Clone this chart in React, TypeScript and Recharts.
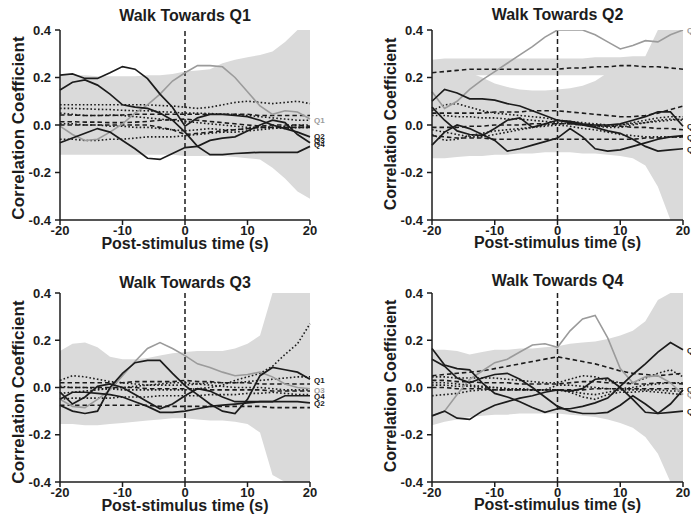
import { ComposedChart, Line, Area, XAxis, YAxis, ReferenceLine, ReferenceDot } from 'recharts'

// post-stimulus time (s), sampled every 2 s
const TIME = [-20, -18, -16, -14, -12, -10, -8, -6, -4, -2, 0, 2, 4, 6, 8, 10, 12, 14, 16, 18, 20]
const X_TICKS = [-20, -10, 0, 10, 20]
const Y_TICKS = [-0.4, -0.2, 0, 0.2, 0.4]

// ---- Walk Towards Q1 ----
const q1BandHigh = [0.21, 0.21, 0.21, 0.205, 0.205, 0.205, 0.205, 0.21, 0.21, 0.215, 0.225, 0.23, 0.235, 0.26, 0.275, 0.285, 0.295, 0.31, 0.35, 0.4, 0.4]
const q1BandLow = [-0.125, -0.125, -0.125, -0.125, -0.125, -0.125, -0.125, -0.125, -0.125, -0.125, -0.13, -0.13, -0.13, -0.13, -0.135, -0.14, -0.145, -0.18, -0.225, -0.28, -0.31]
const q1Gray = [-0.005, -0.04, -0.065, -0.06, -0.03, 0.005, 0.05, 0.085, 0.13, 0.185, 0.22, 0.25, 0.25, 0.245, 0.2, 0.14, 0.08, 0.045, 0.06, 0.055, 0.025]
const q1SolidA = [0.21, 0.215, 0.196, 0.196, 0.22, 0.246, 0.235, 0.195, 0.13, 0.075, -0.005, 0.03, 0.045, 0.045, 0.04, 0.035, 0.02, 0.0, -0.015, -0.03, -0.05]
const q1SolidB = [0.147, 0.18, 0.19, 0.168, 0.13, 0.085, 0.075, 0.07, 0.05, 0.02, -0.03, -0.09, -0.125, -0.125, -0.12, -0.117, -0.115, -0.115, -0.115, -0.115, -0.09]
const q1SolidC = [-0.075, -0.055, -0.035, -0.015, -0.03, -0.065, -0.1, -0.14, -0.145, -0.12, -0.095, -0.09, -0.065, -0.055, -0.05, -0.025, 0.0, 0.02, 0.01, -0.04, -0.075]
const q1Dot1 = [0.085, 0.085, 0.085, 0.085, 0.085, 0.085, 0.085, 0.085, 0.082, 0.08, 0.075, 0.07, 0.075, 0.085, 0.095, 0.1, 0.095, 0.09, 0.095, 0.1, 0.09]
const q1Dot2 = [0.07, 0.07, 0.068, 0.066, 0.065, 0.062, 0.06, 0.06, 0.056, 0.054, 0.05, 0.05, 0.048, 0.046, 0.045, 0.04, 0.035, 0.03, 0.025, 0.02, 0.02]
const q1Dot3 = [0.05, 0.045, 0.04, 0.04, 0.042, 0.04, 0.035, 0.03, 0.025, 0.02, 0.015, 0.01, 0.005, 0.0, -0.005, -0.01, -0.01, -0.01, -0.005, 0.0, 0.0]
const q1Dot4 = [0.005, 0.005, 0.0, 0.0, -0.005, -0.005, -0.01, -0.01, -0.015, -0.02, -0.025, -0.02, -0.015, -0.02, -0.02, -0.015, -0.01, -0.01, -0.015, -0.01, -0.01]
const q1Dot5 = [-0.06, -0.06, -0.065, -0.065, -0.06, -0.06, -0.055, -0.05, -0.05, -0.05, -0.045, -0.04, -0.035, -0.03, -0.03, -0.025, -0.02, -0.015, -0.01, -0.01, -0.01]
const q1Dash1 = [0.042, 0.042, 0.04, 0.04, 0.04, 0.042, 0.045, 0.045, 0.045, 0.045, 0.045, 0.045, 0.045, 0.045, 0.045, 0.045, 0.04, 0.04, 0.04, 0.04, 0.04]
const q1Dash2 = [0.0, 0.0, 0.0, 0.0, 0.0, 0.0, 0.0, 0.0, -0.01, -0.02, -0.04, -0.035, -0.03, -0.025, -0.02, -0.015, -0.01, -0.01, -0.01, -0.01, -0.01]
const q1Dash3 = [0.014, 0.014, 0.012, 0.012, 0.01, 0.01, 0.012, 0.015, 0.02, 0.022, 0.025, 0.02, 0.015, 0.01, 0.005, 0.0, -0.005, 0.0, 0.0, 0.0, -0.005]

// ---- Walk Towards Q2 ----
const q2BandHigh = [0.275, 0.28, 0.28, 0.28, 0.28, 0.28, 0.28, 0.28, 0.28, 0.28, 0.28, 0.28, 0.28, 0.285, 0.285, 0.285, 0.29, 0.29, 0.4, 0.4, 0.4]
const q2BandMid = [0.21, 0.21, 0.21, 0.21, 0.21, 0.21, 0.21, 0.21, 0.21, 0.21, 0.21, 0.21, 0.21, 0.21, 0.21, 0.21, 0.21, 0.21, 0.21, 0.21, 0.21]
const q2HoleLow = [0.22, 0.22, 0.22, 0.22, 0.2, 0.175, 0.16, 0.15, 0.145, 0.145, 0.15, 0.155, 0.165, 0.185, 0.22, 0.22, 0.22, 0.22, 0.22, 0.22, 0.22]
const q2BandLow = [-0.14, -0.14, -0.135, -0.13, -0.13, -0.125, -0.125, -0.12, -0.12, -0.115, -0.115, -0.115, -0.12, -0.12, -0.125, -0.13, -0.14, -0.17, -0.26, -0.4, -0.4]
const q2Gray = [0.14, 0.07, 0.1, 0.15, 0.19, 0.225, 0.26, 0.295, 0.33, 0.37, 0.4, 0.4, 0.4, 0.38, 0.35, 0.32, 0.335, 0.355, 0.35, 0.38, 0.4]
const q2SolidA = [0.1, 0.15, 0.135, 0.11, 0.11, 0.105, 0.09, 0.08, 0.06, 0.04, 0.02, 0.01, 0.0, -0.01, -0.025, -0.035, -0.06, -0.09, -0.11, -0.105, -0.1]
const q2SolidB = [-0.085, -0.03, 0.0, -0.015, -0.04, -0.065, -0.11, -0.1, -0.085, -0.07, -0.055, -0.015, -0.05, -0.1, -0.11, -0.105, -0.09, -0.075, -0.06, -0.05, -0.045]
const q2SolidC = [0.075, 0.02, -0.025, -0.04, -0.045, -0.015, 0.02, 0.03, -0.01, 0.005, 0.02, 0.015, 0.005, 0.0, 0.0, 0.005, 0.02, 0.035, 0.055, 0.055, -0.005]
const q2Dot1 = [0.06, 0.085, 0.09, 0.075, 0.06, 0.05, 0.045, 0.04, 0.035, 0.03, 0.02, 0.015, 0.01, 0.005, 0.0, 0.0, 0.01, 0.02, 0.03, 0.035, 0.035]
const q2Dot2 = [0.04, 0.04, 0.035, 0.035, 0.03, 0.03, 0.025, 0.025, 0.02, 0.015, 0.01, 0.005, 0.0, -0.005, -0.01, -0.01, 0.0, 0.01, 0.015, 0.02, 0.025]
const q2Dot3 = [-0.04, -0.065, -0.06, -0.045, -0.035, -0.025, -0.02, -0.015, -0.01, -0.005, 0.0, -0.005, -0.015, -0.02, -0.03, -0.04, -0.045, -0.05, -0.05, -0.05, -0.05]
const q2Dot4 = [-0.02, -0.03, -0.04, -0.05, -0.05, -0.04, -0.03, -0.02, -0.01, 0.0, 0.005, 0.005, 0.0, -0.005, -0.005, 0.0, 0.005, 0.01, 0.02, 0.025, 0.02]
const q2Dash1 = [0.22, 0.225, 0.23, 0.235, 0.235, 0.235, 0.235, 0.235, 0.235, 0.235, 0.235, 0.24, 0.24, 0.245, 0.245, 0.25, 0.25, 0.245, 0.245, 0.24, 0.235]
const q2Dash2 = [0.05, 0.05, 0.05, 0.05, 0.05, 0.055, 0.055, 0.055, 0.06, 0.06, 0.06, 0.055, 0.05, 0.045, 0.04, 0.035, 0.035, 0.04, 0.05, 0.065, 0.08]
const q2Dash3 = [-0.01, -0.01, -0.01, -0.005, -0.005, 0.0, 0.0, 0.0, 0.005, 0.005, 0.005, 0.005, 0.0, 0.0, -0.005, -0.005, -0.01, -0.01, -0.015, -0.015, -0.02]
const q2Dash4 = [-0.045, -0.05, -0.055, -0.055, -0.055, -0.06, -0.06, -0.06, -0.06, -0.06, -0.06, -0.06, -0.06, -0.06, -0.06, -0.06, -0.06, -0.055, -0.055, -0.05, -0.05]

// ---- Walk Towards Q3 ----
const q3BandHigh = [0.155, 0.185, 0.19, 0.17, 0.13, 0.12, 0.12, 0.125, 0.135, 0.145, 0.15, 0.155, 0.155, 0.155, 0.165, 0.185, 0.22, 0.4, 0.4, 0.4, 0.4]
const q3BandLow = [-0.155, -0.155, -0.16, -0.16, -0.155, -0.15, -0.145, -0.14, -0.135, -0.13, -0.13, -0.135, -0.14, -0.14, -0.145, -0.155, -0.19, -0.37, -0.4, -0.4, -0.4]
const q3Gray = [-0.05, -0.08, -0.085, -0.05, -0.01, 0.05, 0.11, 0.165, 0.19, 0.165, 0.135, 0.1, 0.085, 0.065, 0.05, 0.055, 0.065, 0.045, 0.015, 0.0, -0.005]
const q3SolidA = [-0.075, -0.1, -0.11, -0.1, 0.0, 0.06, 0.105, 0.115, 0.115, 0.06, 0.008, -0.03, -0.07, -0.1, -0.11, -0.05, 0.05, 0.085, 0.075, 0.065, 0.035]
const q3SolidB = [-0.05, -0.02, -0.02, -0.025, -0.03, -0.04, -0.06, -0.08, -0.105, -0.105, -0.1, -0.09, -0.08, -0.075, -0.07, -0.065, -0.06, -0.06, -0.035, -0.035, -0.035]
const q3SolidC = [-0.02, -0.07, -0.04, 0.005, 0.015, 0.0, -0.03, -0.06, -0.09, -0.07, -0.035, -0.005, -0.015, -0.04, -0.06, -0.06, -0.06, -0.06, -0.06, -0.06, -0.065]
const q3Dot1 = [0.005, 0.0, 0.0, -0.005, -0.005, -0.01, -0.01, -0.01, -0.01, -0.01, -0.01, -0.005, 0.0, 0.01, 0.03, 0.045, 0.06, 0.09, 0.14, 0.185, 0.27]
const q3Dot2 = [0.03, 0.05, 0.045, 0.035, 0.025, 0.02, 0.015, 0.01, 0.01, 0.01, 0.01, 0.015, 0.02, 0.02, 0.02, 0.025, 0.03, 0.035, 0.04, 0.045, 0.045]
const q3Dot3 = [-0.025, -0.02, -0.015, -0.01, -0.005, 0.0, 0.005, 0.01, 0.015, 0.02, 0.02, 0.015, 0.01, 0.005, 0.0, 0.0, 0.0, -0.005, -0.01, -0.01, -0.01]
const q3Dot4 = [-0.05, -0.045, -0.045, -0.045, -0.045, -0.04, -0.04, -0.04, -0.035, -0.035, -0.035, -0.035, -0.03, -0.03, -0.03, -0.025, -0.025, -0.02, -0.025, -0.03, -0.03]
const q3Dash1 = [0.02, 0.02, 0.02, 0.02, 0.02, 0.02, 0.025, 0.025, 0.025, 0.025, 0.03, 0.025, 0.025, 0.02, 0.02, 0.02, 0.015, 0.015, 0.015, 0.015, 0.015]
const q3Dash2 = [0.0, 0.0, 0.0, 0.0, 0.0, 0.0, 0.0, -0.005, -0.005, -0.005, -0.005, -0.005, -0.01, -0.01, -0.01, -0.01, -0.01, -0.015, -0.015, -0.015, -0.015]
const q3Dash3 = [-0.075, -0.075, -0.075, -0.075, -0.075, -0.075, -0.075, -0.075, -0.08, -0.08, -0.08, -0.08, -0.08, -0.08, -0.08, -0.08, -0.08, -0.085, -0.085, -0.085, -0.085]

// ---- Walk Towards Q4 ----
const q4BandHigh = [0.16, 0.16, 0.155, 0.14, 0.15, 0.16, 0.16, 0.165, 0.165, 0.17, 0.175, 0.185, 0.19, 0.195, 0.205, 0.22, 0.24, 0.28, 0.37, 0.4, 0.4]
const q4BandLow = [-0.16, -0.145, -0.135, -0.125, -0.12, -0.115, -0.115, -0.11, -0.11, -0.11, -0.11, -0.115, -0.12, -0.125, -0.135, -0.15, -0.17, -0.21, -0.28, -0.4, -0.4]
const q4Gray = [-0.12, -0.1, -0.03, 0.035, 0.07, 0.105, 0.12, 0.15, 0.18, 0.185, 0.17, 0.24, 0.29, 0.305, 0.21, 0.08, 0.02, 0.045, 0.05, 0.02, -0.03]
const q4SolidA = [0.165, 0.095, 0.08, 0.075, 0.02, -0.025, -0.04, -0.06, -0.085, -0.105, -0.09, -0.09, -0.08, -0.065, -0.045, 0.005, 0.055, 0.1, 0.15, 0.19, 0.16]
const q4SolidB = [0.12, 0.09, 0.04, 0.02, 0.04, 0.055, 0.06, 0.035, 0.0, -0.04, -0.08, -0.1, -0.11, -0.11, -0.105, -0.075, -0.035, -0.07, -0.11, -0.105, -0.1]
const q4SolidC = [-0.12, -0.1, -0.13, -0.135, -0.1, -0.075, -0.06, -0.045, -0.035, -0.02, -0.01, -0.015, -0.005, 0.035, 0.04, 0.0, -0.05, -0.105, -0.11, -0.07, -0.01]
const q4Dot1 = [0.045, 0.045, 0.04, 0.04, 0.04, 0.04, 0.035, 0.03, 0.025, 0.02, 0.02, 0.035, 0.05, 0.045, 0.03, 0.02, 0.02, 0.04, 0.06, 0.075, 0.045]
const q4Dot2 = [0.01, 0.01, 0.005, 0.005, 0.0, 0.0, -0.005, -0.005, -0.01, -0.01, 0.01, 0.01, 0.005, 0.0, -0.005, -0.005, 0.0, 0.01, 0.015, 0.02, 0.02]
const q4Dot3 = [-0.035, -0.03, -0.025, -0.015, -0.01, -0.01, -0.01, -0.01, -0.01, -0.01, -0.01, -0.015, -0.025, -0.03, -0.02, -0.01, -0.01, -0.01, -0.01, -0.015, -0.015]
const q4Dot4 = [0.02, 0.02, 0.015, 0.01, 0.005, 0.0, -0.005, -0.005, -0.01, -0.01, -0.01, -0.02, -0.04, -0.05, -0.03, -0.02, -0.02, -0.015, -0.02, -0.025, -0.03]
const q4Dash1 = [0.05, 0.055, 0.06, 0.065, 0.07, 0.08, 0.09, 0.1, 0.11, 0.12, 0.13, 0.12, 0.11, 0.1, 0.085, 0.07, 0.06, 0.055, 0.05, 0.055, 0.06]
const q4Dash2 = [0.03, 0.03, 0.025, 0.025, 0.02, 0.02, 0.02, 0.015, 0.015, 0.015, 0.015, 0.02, 0.025, 0.025, 0.02, 0.02, 0.015, 0.015, 0.02, 0.02, 0.015]
const q4Dash3 = [0.0, 0.0, -0.005, -0.005, -0.005, -0.01, -0.01, -0.01, -0.01, -0.01, -0.01, -0.01, -0.01, -0.005, -0.005, -0.005, -0.005, -0.005, -0.005, -0.005, -0.005]

// end-of-trace labels: text, value, gray?
const q1Labels = [['Q1', 0.022, true], ['Q2', -0.045, false], ['Q3', -0.062, false], ['Q4', -0.079, false]]
const q2Labels = [['Q2', 0.4, true], ['Q1', -0.005, false], ['Q3', -0.05, false], ['Q4', -0.1, false]]
const q3Labels = [['Q1', 0.032, false], ['Q3', -0.01, true], ['Q4', -0.035, false], ['Q2', -0.066, false]]
const q4Labels = [['Q1', 0.16, false], ['Q2', -0.005, false], ['Q4', -0.03, true], ['Q3', -0.1, false]]

const INK = '#1c1c1c'
const GRAY = '#9b9b9b'
const BAND = '#dadada'
const FONT = '"Liberation Sans", Arial, Helvetica, sans-serif'

type PanelDef = {
  title: string
  left: number
  top: number
  width: number
  mLeft: number
  mRight: number
  mTop: number
  titleTop: number
  xLabelTop: number
  yLabelX: number
  yLabelY: number
  yLabelSize: number
  bands: [number[], number[]][]
  gray: number[]
  solid: number[][]
  dotted: number[][]
  dashed: number[][]
  labels: (string | number | boolean)[][]
}

const PANELS: PanelDef[] = [
  {
    title: 'Walk Towards Q1', left: 0, top: 0, width: 345, mLeft: 0, mRight: 35, mTop: 30,
    titleTop: 8, xLabelTop: 236, yLabelX: 18.5, yLabelY: 128, yLabelSize: 17,
    bands: [[q1BandLow, q1BandHigh]], gray: q1Gray,
    solid: [q1SolidA, q1SolidB, q1SolidC],
    dotted: [q1Dot1, q1Dot2, q1Dot3, q1Dot4, q1Dot5],
    dashed: [q1Dash1, q1Dash2, q1Dash3],
    labels: q1Labels,
  },
  {
    title: 'Walk Towards Q2', left: 345, top: 0, width: 346, mLeft: 27, mRight: 8, mTop: 30,
    titleTop: 7, xLabelTop: 235, yLabelX: 46, yLabelY: 124, yLabelSize: 16,
    bands: [[q2BandMid, q2BandHigh], [q2BandLow, q2HoleLow]], gray: q2Gray,
    solid: [q2SolidA, q2SolidB, q2SolidC],
    dotted: [q2Dot1, q2Dot2, q2Dot3, q2Dot4],
    dashed: [q2Dash1, q2Dash2, q2Dash3, q2Dash4],
    labels: q2Labels,
  },
  {
    title: 'Walk Towards Q3', left: 0, top: 262, width: 345, mLeft: 0, mRight: 35, mTop: 31,
    titleTop: 13, xLabelTop: 236, yLabelX: 19, yLabelY: 130, yLabelSize: 17,
    bands: [[q3BandLow, q3BandHigh]], gray: q3Gray,
    solid: [q3SolidA, q3SolidB, q3SolidC],
    dotted: [q3Dot1, q3Dot2, q3Dot3, q3Dot4],
    dashed: [q3Dash1, q3Dash2, q3Dash3],
    labels: q3Labels,
  },
  {
    title: 'Walk Towards Q4', left: 345, top: 262, width: 346, mLeft: 27, mRight: 8, mTop: 31,
    titleTop: 11, xLabelTop: 235, yLabelX: 45.5, yLabelY: 124, yLabelSize: 16,
    bands: [[q4BandLow, q4BandHigh]], gray: q4Gray,
    solid: [q4SolidA, q4SolidB, q4SolidC],
    dotted: [q4Dot1, q4Dot2, q4Dot3, q4Dot4],
    dashed: [q4Dash1, q4Dash2, q4Dash3],
    labels: q4Labels,
  },
]

const HEIGHT = 262

function buildRows(p: PanelDef) {
  return TIME.map((t, i) => {
    const row: Record<string, any> = { t, gray: p.gray[i] }
    p.bands.forEach(([lo, hi], k) => { row['band' + k] = [lo[i], hi[i]] })
    p.solid.forEach((s, k) => { row['solid' + k] = s[i] })
    p.dotted.forEach((s, k) => { row['dot' + k] = s[i] })
    p.dashed.forEach((s, k) => { row['dash' + k] = s[i] })
    return row
  })
}

const tickStyle = { fill: INK, fontSize: 13, fontWeight: 700, fontFamily: FONT }

function Panel({ p }: { p: PanelDef }) {
  const rows = buildRows(p)
  const plotCenter = p.mLeft + 60 + (p.width - p.mLeft - 60 - p.mRight) / 2
  const textBase = { position: 'absolute' as const, fontFamily: FONT, fontWeight: 700, color: INK, whiteSpace: 'nowrap' as const }

  return (
    <div style={{ position: 'absolute', left: p.left, top: p.top, width: p.width, height: HEIGHT }}>
      <ComposedChart
        width={p.width}
        height={HEIGHT}
        data={rows}
        margin={{ top: p.mTop, right: p.mRight, bottom: 0, left: p.mLeft }}
      >
        <XAxis
          dataKey="t"
          type="number"
          domain={[-20, 20]}
          ticks={X_TICKS}
          interval={0}
          height={42}
          tickSize={5}
          tickMargin={1}
          axisLine={{ stroke: INK, strokeWidth: 1.5 }}
          tickLine={{ stroke: INK, strokeWidth: 1.5 }}
          tick={tickStyle}
        />
        <YAxis
          type="number"
          domain={[-0.4, 0.4]}
          ticks={Y_TICKS}
          interval={0}
          width={60}
          tickSize={5}
          tickMargin={4}
          allowDataOverflow
          tickFormatter={(v: number) => v.toFixed(1)}
          axisLine={{ stroke: INK, strokeWidth: 1.5 }}
          tickLine={{ stroke: INK, strokeWidth: 1.5 }}
          tick={tickStyle}
        />
        {p.bands.map((_, k) => (
          <Area
            key={'b' + k}
            type="linear"
            dataKey={'band' + k}
            stroke="none"
            fill={BAND}
            fillOpacity={1}
            isAnimationActive={false}
            activeDot={false}
          />
        ))}
        <ReferenceLine x={0} stroke={INK} strokeWidth={1.5} strokeDasharray="5 3" />
        {p.dotted.map((_, k) => (
          <Line
            key={'d' + k}
            type="linear"
            dataKey={'dot' + k}
            stroke={INK}
            strokeWidth={1.6}
            strokeDasharray="1.6 2.2"
            dot={false}
            activeDot={false}
            isAnimationActive={false}
          />
        ))}
        {p.dashed.map((_, k) => (
          <Line
            key={'e' + k}
            type="linear"
            dataKey={'dash' + k}
            stroke={INK}
            strokeWidth={1.6}
            strokeDasharray="4.5 3"
            dot={false}
            activeDot={false}
            isAnimationActive={false}
          />
        ))}
        <Line
          type="linear"
          dataKey="gray"
          stroke={GRAY}
          strokeWidth={1.6}
          dot={false}
          activeDot={false}
          isAnimationActive={false}
        />
        {p.solid.map((_, k) => (
          <Line
            key={'s' + k}
            type="linear"
            dataKey={'solid' + k}
            stroke={INK}
            strokeWidth={1.7}
            dot={false}
            activeDot={false}
            isAnimationActive={false}
          />
        ))}
        {p.labels.map(([text, y, gray], k) => (
          <ReferenceDot
            key={'l' + k}
            x={20}
            y={y as number}
            r={0}
            fill="none"
            stroke="none"
            ifOverflow="visible"
            label={{
              value: text as string,
              position: 'right',
              offset: 4,
              fill: gray ? GRAY : INK,
              fontSize: 8,
              fontWeight: 700,
              fontFamily: FONT,
            }}
          />
        ))}
      </ComposedChart>

      <div style={{ ...textBase, fontSize: 16, lineHeight: '16px', top: p.titleTop, left: plotCenter - 100, width: 200, textAlign: 'center' }}>
        {p.title}
      </div>
      <div style={{ ...textBase, fontSize: 16, lineHeight: '16px', top: p.xLabelTop, left: plotCenter - 100, width: 200, textAlign: 'center' }}>
        Post-stimulus time (s)
      </div>
      <div
        style={{
          ...textBase,
          fontSize: p.yLabelSize,
          lineHeight: '20px',
          height: 20,
          width: 220,
          left: p.yLabelX - 110,
          top: p.yLabelY - 10,
          textAlign: 'center',
          transform: 'rotate(-90deg)',
        }}
      >
        Correlation Coefficient
      </div>
    </div>
  )
}

export default function App() {
  return (
    <div style={{ position: 'absolute', left: 0, top: 0, width: 691, height: 524, background: '#fff', overflow: 'hidden' }}>
      {PANELS.map((p) => (
        <Panel key={p.title} p={p} />
      ))}
    </div>
  )
}
